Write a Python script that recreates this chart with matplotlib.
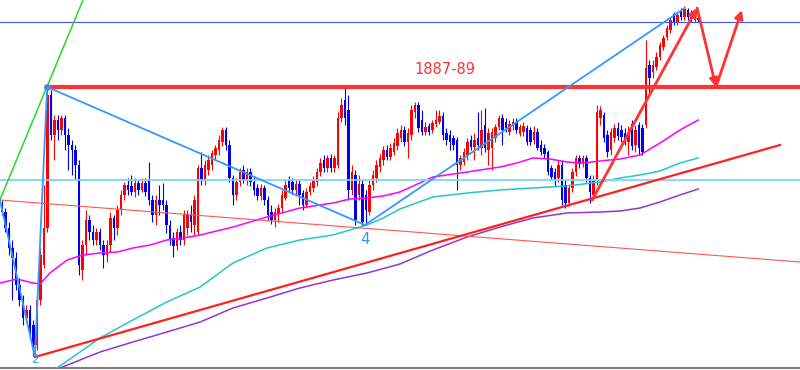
import numpy as np
import matplotlib
matplotlib.use('Agg')
from matplotlib import pyplot as plt

# K线数据 (价格)
opens = [
    1876.5, 1875.8, 1874.2, 1872.2, 1871.2, 1868.5, 1867.0, 1865.2, 1866.0, 1864.5,
    1862.5, 1867.0, 1870.5, 1874.2, 1887.5, 1883.5, 1885.0, 1884.0, 1885.2, 1883.5,
    1882.5, 1882.0, 1880.5, 1870.0, 1872.5, 1875.0, 1873.8, 1873.0, 1873.8, 1872.5,
    1871.5, 1872.5, 1875.2, 1874.2, 1876.0, 1877.5, 1878.5, 1878.4, 1877.8, 1878.7,
    1878.0, 1878.7, 1879.0, 1877.0, 1875.5, 1877.0, 1877.0, 1876.5, 1874.5, 1873.2,
    1872.4, 1873.8, 1873.0, 1874.2, 1875.5, 1874.5, 1873.8, 1880.2, 1879.0, 1880.0,
    1880.5, 1881.5, 1882.0, 1882.8, 1884.0, 1882.5, 1879.2, 1877.5, 1878.8, 1880.0,
    1879.0, 1879.8, 1878.8, 1878.2, 1877.4, 1878.2, 1877.0, 1875.8, 1875.0, 1875.6,
    1876.2, 1877.2, 1879.0, 1878.8, 1878.0, 1878.6, 1877.7, 1876.5, 1877.8, 1878.2,
    1878.8, 1879.8, 1881.0, 1880.2, 1881.2, 1880.2, 1880.5, 1885.2, 1887.0, 1886.0,
    1878.0, 1879.5, 1877.5, 1878.6, 1877.5, 1875.8, 1878.5, 1879.2, 1880.3, 1881.0,
    1882.0, 1881.3, 1881.8, 1882.4, 1883.2, 1884.0, 1882.8, 1883.5, 1885.8, 1886.5,
    1885.0, 1883.8, 1884.4, 1884.0, 1884.6, 1884.8, 1885.4, 1883.7, 1883.5, 1883.2,
    1883.0, 1880.5, 1880.8, 1881.5, 1883.0, 1882.3, 1883.2, 1882.2, 1884.5, 1882.0,
    1882.2, 1883.2, 1884.3, 1885.2, 1884.8, 1883.8, 1884.4, 1884.8, 1883.6, 1883.8,
    1884.2, 1884.0, 1883.0, 1883.8, 1882.5, 1882.2, 1881.8, 1880.2, 1879.8, 1879.2,
    1880.5, 1878.5, 1876.7, 1878.2, 1879.8, 1881.2, 1880.6, 1881.2, 1879.2, 1877.5,
    1879.0, 1885.2, 1885.5, 1883.5, 1882.0, 1883.2, 1884.2, 1884.0, 1883.7, 1882.8,
    1884.6, 1882.5, 1884.5, 1884.2, 1884.5, 1890.5, 1889.8, 1890.3, 1891.3, 1892.3,
    1893.3, 1894.0, 1895.6, 1894.8, 1895.9, 1895.3, 1896.0, 1895.6, 1895.0, 1895.2,
]
closes = [
    1875.8, 1874.2, 1872.2, 1871.2, 1868.5, 1867.0, 1865.2, 1866.0, 1864.0, 1862.5,
    1867.0, 1871.5, 1874.2, 1887.5, 1883.5, 1885.0, 1884.0, 1885.2, 1883.5, 1882.5,
    1882.0, 1880.5, 1870.5, 1872.5, 1875.0, 1873.8, 1873.0, 1873.8, 1872.5, 1871.5,
    1872.5, 1875.2, 1874.2, 1876.0, 1877.5, 1878.5, 1878.0, 1877.8, 1878.7, 1878.0,
    1878.7, 1877.8, 1877.0, 1875.5, 1877.0, 1876.5, 1876.5, 1874.5, 1873.0, 1872.4,
    1873.8, 1873.0, 1875.5, 1875.5, 1874.8, 1877.0, 1880.2, 1879.0, 1880.5, 1881.0,
    1881.7, 1882.2, 1883.0, 1884.0, 1882.5, 1879.2, 1877.5, 1878.8, 1879.8, 1879.0,
    1879.8, 1878.8, 1878.0, 1877.4, 1878.2, 1877.0, 1875.5, 1875.0, 1875.8, 1876.2,
    1877.5, 1878.5, 1878.2, 1878.0, 1878.6, 1877.5, 1876.5, 1877.8, 1878.4, 1879.0,
    1879.8, 1880.7, 1880.2, 1881.2, 1880.2, 1881.2, 1885.2, 1886.5, 1885.2, 1878.0,
    1879.8, 1875.0, 1878.6, 1874.8, 1876.0, 1878.5, 1879.5, 1880.5, 1881.2, 1882.0,
    1881.3, 1882.2, 1882.7, 1883.7, 1884.0, 1882.8, 1883.7, 1886.0, 1886.5, 1884.2,
    1883.8, 1884.3, 1883.8, 1884.7, 1885.0, 1885.4, 1883.5, 1883.0, 1882.8, 1882.5,
    1880.5, 1881.2, 1881.8, 1882.8, 1882.3, 1883.0, 1882.5, 1884.0, 1882.2, 1883.7,
    1883.8, 1884.3, 1885.2, 1884.0, 1884.2, 1884.6, 1884.8, 1884.0, 1884.3, 1884.4,
    1882.8, 1882.8, 1883.8, 1882.2, 1881.8, 1881.6, 1879.8, 1879.3, 1879.0, 1880.5,
    1877.0, 1876.7, 1878.2, 1879.8, 1881.2, 1880.6, 1881.2, 1879.2, 1877.8, 1879.0,
    1885.8, 1886.0, 1883.2, 1881.8, 1883.8, 1884.2, 1883.4, 1883.3, 1883.0, 1883.6,
    1882.4, 1884.0, 1882.2, 1881.8, 1890.2, 1889.2, 1890.5, 1891.3, 1892.5, 1893.2,
    1894.2, 1895.0, 1894.8, 1895.5, 1895.3, 1896.1, 1895.3, 1895.2, 1895.4, 1895.0,
]
highs = [
    1877.0, 1876.2, 1874.8, 1873.0, 1871.8, 1869.2, 1867.5, 1866.5, 1866.5, 1865.0,
    1867.5, 1872.2, 1878.5, 1888.2, 1888.0, 1885.5, 1885.5, 1885.5, 1885.5, 1884.2,
    1883.0, 1882.5, 1881.0, 1873.0, 1876.0, 1875.5, 1874.5, 1874.2, 1874.2, 1873.0,
    1873.0, 1875.8, 1875.5, 1876.5, 1878.0, 1878.8, 1879.2, 1879.5, 1879.2, 1879.0,
    1879.2, 1879.2, 1880.8, 1877.5, 1877.5, 1878.5, 1878.7, 1877.0, 1875.0, 1873.8,
    1874.2, 1874.5, 1876.0, 1876.0, 1876.5, 1877.5, 1880.5, 1881.8, 1881.0, 1881.5,
    1882.0, 1882.5, 1883.5, 1884.3, 1884.3, 1883.0, 1879.5, 1879.2, 1880.2, 1880.5,
    1880.2, 1880.2, 1879.4, 1878.6, 1878.6, 1878.5, 1877.4, 1876.5, 1876.2, 1876.6,
    1878.0, 1879.0, 1879.4, 1879.2, 1879.0, 1879.0, 1878.0, 1878.2, 1878.8, 1879.4,
    1880.2, 1881.2, 1881.5, 1881.5, 1881.6, 1881.5, 1885.8, 1887.2, 1888.2, 1887.5,
    1880.5, 1880.0, 1879.5, 1879.0, 1878.0, 1879.0, 1880.0, 1881.0, 1881.6, 1882.4,
    1882.5, 1882.7, 1883.2, 1884.2, 1884.5, 1884.4, 1884.2, 1886.5, 1886.8, 1886.8,
    1886.0, 1884.8, 1884.7, 1885.0, 1886.0, 1886.0, 1885.8, 1884.2, 1884.0, 1883.5,
    1883.3, 1881.5, 1882.2, 1883.2, 1883.5, 1883.7, 1885.8, 1886.0, 1886.2, 1884.2,
    1884.2, 1884.6, 1885.5, 1885.6, 1885.2, 1885.0, 1885.2, 1885.2, 1884.6, 1884.8,
    1884.5, 1884.3, 1884.4, 1884.2, 1883.0, 1882.6, 1882.0, 1880.5, 1880.2, 1881.0,
    1881.0, 1879.0, 1878.6, 1880.2, 1881.5, 1881.5, 1881.5, 1881.5, 1879.5, 1879.5,
    1886.5, 1886.4, 1885.8, 1884.0, 1884.2, 1884.6, 1884.8, 1884.5, 1884.2, 1884.4,
    1885.0, 1884.5, 1884.8, 1884.6, 1893.0, 1891.0, 1891.0, 1891.8, 1892.8, 1893.5,
    1894.5, 1895.3, 1895.8, 1895.8, 1896.2, 1896.4, 1896.2, 1896.0, 1895.6, 1895.5,
]
lows = [
    1875.5, 1873.8, 1871.5, 1867.0, 1868.0, 1866.4, 1864.5, 1864.8, 1863.2, 1861.4,
    1862.0, 1866.5, 1870.2, 1873.8, 1883.0, 1881.0, 1883.0, 1883.5, 1882.0, 1880.0,
    1879.5, 1879.0, 1869.5, 1869.0, 1871.5, 1873.0, 1872.5, 1872.5, 1872.0, 1870.2,
    1870.8, 1871.8, 1873.0, 1873.5, 1875.5, 1877.0, 1877.5, 1877.5, 1877.3, 1877.5,
    1877.8, 1877.4, 1876.5, 1874.8, 1874.5, 1875.5, 1876.0, 1873.7, 1872.5, 1871.3,
    1872.0, 1872.5, 1872.5, 1873.5, 1873.8, 1873.5, 1873.5, 1878.5, 1878.5, 1879.5,
    1880.0, 1881.0, 1881.5, 1882.4, 1882.0, 1878.8, 1876.5, 1877.0, 1878.4, 1878.7,
    1878.5, 1878.4, 1877.5, 1877.0, 1877.0, 1876.5, 1875.0, 1874.6, 1874.3, 1874.8,
    1875.8, 1877.0, 1877.8, 1877.6, 1877.5, 1876.5, 1876.0, 1876.2, 1877.5, 1877.8,
    1878.4, 1879.4, 1879.8, 1879.8, 1879.8, 1879.8, 1880.2, 1884.8, 1884.5, 1877.0,
    1877.5, 1874.5, 1877.0, 1874.4, 1874.5, 1875.5, 1878.0, 1878.8, 1879.8, 1880.5,
    1881.0, 1881.0, 1881.5, 1882.0, 1882.8, 1882.4, 1881.2, 1883.0, 1885.2, 1883.8,
    1883.5, 1883.5, 1883.5, 1883.7, 1884.3, 1884.6, 1883.0, 1882.5, 1882.0, 1882.0,
    1878.0, 1880.0, 1880.5, 1881.0, 1882.0, 1881.0, 1882.0, 1881.5, 1881.8, 1880.5,
    1880.0, 1882.8, 1884.0, 1882.5, 1883.8, 1883.5, 1884.0, 1883.7, 1883.4, 1883.4,
    1882.5, 1882.5, 1882.6, 1882.0, 1881.5, 1881.2, 1879.5, 1879.0, 1878.4, 1878.8,
    1876.5, 1876.2, 1876.4, 1877.8, 1879.4, 1880.2, 1880.3, 1878.8, 1876.7, 1877.0,
    1878.5, 1884.5, 1882.8, 1881.3, 1881.5, 1882.8, 1883.0, 1882.8, 1882.5, 1881.5,
    1882.0, 1881.8, 1881.5, 1881.5, 1884.2, 1887.8, 1889.2, 1890.0, 1891.0, 1892.0,
    1893.0, 1893.7, 1894.5, 1894.5, 1895.0, 1895.0, 1895.0, 1894.8, 1894.8, 1894.8,
]

# 均线 (K线序号, 价格)
ma_fast_x = [-0.6, 4.3, 8.9, 10.9, 13.7, 18.6, 23.1, 28, 32.9, 37.4, 42.3, 47.1, 51.7, 56.6,
             66, 75.7, 85.1, 94.6, 99.4, 104.3, 108.9, 113.7, 123.1, 132.9, 142.3, 147.1,
             151.7, 156.6, 161.4, 166, 170.9, 176.6, 182.3, 188, 193.7, 198.9]
ma_fast_y = [1868.7, 1869.1, 1868.7, 1868.6, 1869.7, 1871.0, 1871.5, 1871.7, 1871.8, 1872.2,
             1872.5, 1873.0, 1873.2, 1873.5, 1874.3, 1875.3, 1876.2, 1876.7, 1877.1, 1877.2,
             1877.4, 1877.8, 1879.3, 1879.8, 1880.3, 1880.7, 1881.2, 1881.1, 1880.8, 1880.7,
             1880.9, 1881.1, 1881.5, 1882.7, 1884.0, 1885.0]
ma_mid_x = [12.3, 15.7, 22.3, 28, 37.4, 47.1, 56.6, 66, 75.7, 85.1, 94.6, 99.4, 104.3, 108.9,
            113.7, 123.1, 132.9, 142.3, 151.7, 161.4, 170.9, 176.6, 182.3, 188, 193.7, 198.9]
ma_mid_y = [1859.5, 1860.2, 1861.8, 1863.2, 1865.0, 1866.8, 1868.3, 1870.7, 1872.2, 1873.0,
            1873.5, 1874.0, 1874.5, 1875.2, 1876.1, 1877.3, 1877.7, 1878.0, 1878.2, 1878.4,
            1878.8, 1879.2, 1879.5, 1879.9, 1880.7, 1881.2]
ma_slow_x = [15.1, 16.6, 28, 37.4, 47.1, 56.6, 66, 75.7, 85.1, 94.6, 104.3, 113.7, 123.1,
             132.9, 142.3, 151.7, 161.4, 170.9, 176.6, 182.3, 188, 193.7, 198.9]
ma_slow_y = [1859.8, 1860.2, 1861.8, 1862.8, 1863.8, 1864.8, 1866.2, 1867.2, 1868.2, 1869.0,
             1869.7, 1870.6, 1872.0, 1873.3, 1874.3, 1875.2, 1875.7, 1875.8, 1875.9, 1876.2,
             1876.8, 1877.5, 1878.1]

# 画线 (K线序号, 价格)
level_top = 1894.8       # 蓝色水平线
level_cyan = 1879.0      # 浅蓝水平线
level_resist = 1888.3    # 1887-89 阻力
resist_start = 12.9
zigzag_x = [-0.6, 9.4, 12.9, 103.7, 195.1]
zigzag_y = [1877.0, 1861.3, 1888.3, 1874.5, 1896.2]
green_x = [-0.6, 23.5]
green_y = [1877.0, 1897.3]
thin_red_x = [-0.6, 228.0]
thin_red_y = [1877.0, 1870.8]
support_x = [9.4, 222.3]
support_y = [1861.3, 1882.5]
path_x = [168.6, 198.6, 204.0, 211.4]   # 预期走势
path_y = [1877.0, 1896.2, 1888.3, 1896.0]

o = np.array(opens)
c = np.array(closes)
h = np.maximum(np.array(highs), np.maximum(o, c))
l = np.minimum(np.array(lows), np.minimum(o, c))
idx = np.arange(len(c))

fig = plt.figure(figsize=(8, 3.7), dpi=100)
ax = fig.add_axes([0, 2 / 370, 1, 368 / 370])
ax.set_xlim(-0.571, 228.0)
ax.set_ylim(1860.2, 1897.0)

# K线
colors = np.where(c >= o, '#ff0000', '#0000ee')
body = np.maximum(np.abs(c - o), 0.2)
ax.vlines(idx, l, h, colors=colors, linewidth=0.8, zorder=2)
ax.bar(idx, body, bottom=np.minimum(o, c), width=0.72, color=colors, linewidth=0, zorder=2)

# 均线
ax.plot(ma_fast_x, ma_fast_y, color='#ff00ff', linewidth=1.1, zorder=3)
ax.plot(ma_mid_x, ma_mid_y, color='#22c8c8', linewidth=1.1, zorder=3)
ax.plot(ma_slow_x, ma_slow_y, color='#9933cc', linewidth=1.1, zorder=3)

# 水平线
ax.axhline(level_top, color='#4050ff', linewidth=0.8, zorder=3)
ax.axhline(level_cyan, color='#7fd4ff', linewidth=1.3, zorder=3)
ax.plot([resist_start, 228.0], [level_resist, level_resist], color='#ff3333', linewidth=3, zorder=4)
ax.text(126.6, 1890.0, '1887-89', color='#ff3333', fontsize=10.5, ha='center', va='center')

# 趋势线
ax.plot(green_x, green_y, color='#22dd22', linewidth=1.1, zorder=3)
ax.plot(thin_red_x, thin_red_y, color='#ff5555', linewidth=0.8, zorder=3)
ax.plot(support_x, support_y, color='#ff2020', linewidth=1.6, zorder=3)
ax.plot(zigzag_x, zigzag_y, color='#3399ff', linewidth=1.3, zorder=4)
ax.plot(zigzag_x[2], zigzag_y[2], 'o', mfc='none', mec='#3399ff', markersize=4, zorder=4)
ax.text(zigzag_x[3], 1873.0, '4', color='#3399ff', fontsize=11, ha='center', va='center')
ax.text(zigzag_x[1], 1860.4, '2', color='#3399ff', fontsize=9, ha='center', va='bottom')

# 预期走势箭头
for i in range(len(path_x) - 1):
    ax.annotate('', xy=(path_x[i + 1], path_y[i + 1]), xytext=(path_x[i], path_y[i]),
                arrowprops=dict(arrowstyle='-|>', color='#ff3333', lw=2, mutation_scale=12,
                                shrinkA=0, shrinkB=0), zorder=5)

ax.set_xticks([])
ax.set_yticks([])
for s in ['top', 'left', 'right']:
    ax.spines[s].set_visible(False)
ax.spines['bottom'].set_color('#808080')
ax.spines['bottom'].set_linewidth(1.5)

plt.savefig('out.png', dpi=100)
